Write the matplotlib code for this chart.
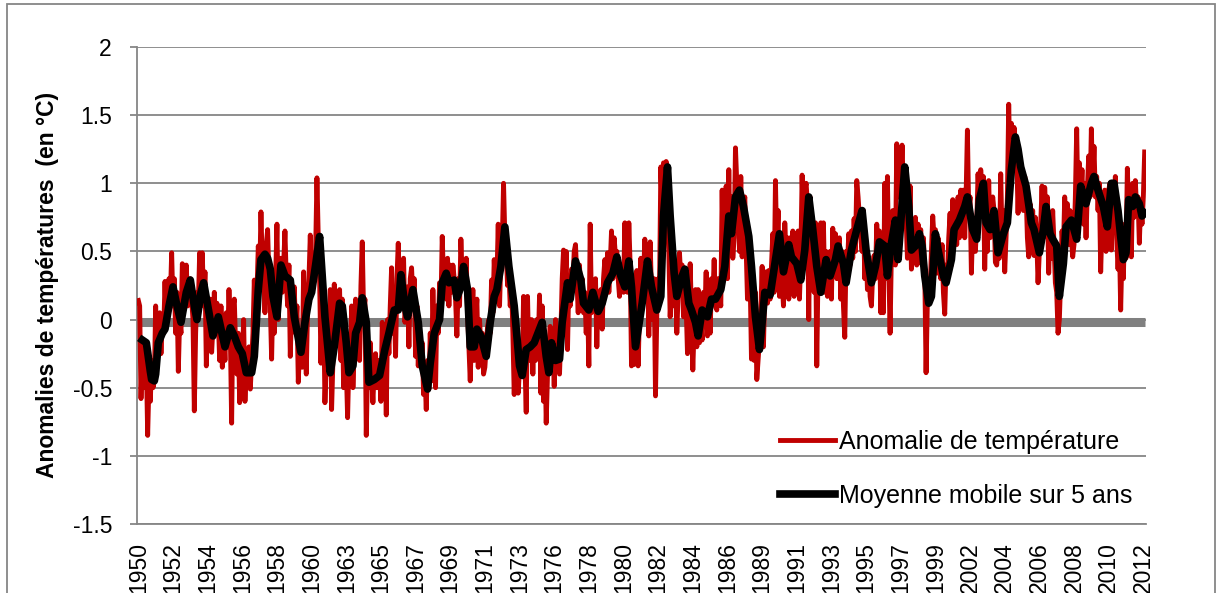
import matplotlib
matplotlib.use("Agg")
import matplotlib.pyplot as plt
import numpy as np
from matplotlib.patches import Rectangle

plt.rcParams['font.family'] = ['Liberation Sans', 'DejaVu Sans']

# monthly temperature anomalies (one row per year, Jan..Dec), 1950-2012
anomalie = [
    [0.14, 0.1, -0.58, -0.2, -0.35, -0.5, -0.3, -0.85, -0.45, -0.6, -0.3, -0.5],
    [-0.45, 0.1, -0.35, -0.15, 0.05, -0.25, 0.0, -0.1, 0.28, -0.05, 0.1, 0.3],
    [0.15, 0.49, 0.1, 0.3, -0.1, 0.2, -0.38, 0.0, -0.1, 0.41, 0.3, 0.2],
    [0.4, 0.1, 0.25, 0.3, 0.15, 0.0, -0.67, -0.1, 0.2, 0.1, 0.49, 0.3],
    [0.49, 0.1, 0.35, -0.34, 0.0, -0.2, 0.15, -0.24, -0.05, 0.2, -0.1, 0.12],
    [0.0, -0.3, 0.1, -0.35, -0.1, -0.3, 0.05, -0.2, 0.22, -0.1, -0.76, 0.1],
    [0.15, -0.2, -0.4, -0.1, -0.61, -0.15, -0.3, 0.0, -0.6, -0.3, -0.45, -0.2],
    [-0.51, -0.3, -0.1, 0.29, -0.05, 0.2, 0.54, 0.3, 0.79, 0.4, 0.5, 0.05],
    [0.55, 0.66, 0.3, 0.1, -0.29, 0.2, -0.1, 0.3, 0.7, 0.0, 0.35, 0.45],
    [0.2, 0.4, 0.65, 0.3, 0.1, 0.4, -0.27, 0.1, -0.05, 0.24, -0.1, 0.1],
    [-0.46, -0.2, -0.1, -0.35, 0.35, -0.1, -0.4, 0.1, 0.3, 0.62, 0.2, 0.35],
    [0.45, 0.5, 1.04, 0.6, 0.3, -0.32, 0.2, 0.1, -0.61, -0.3, -0.1, -0.4],
    [0.22, -0.66, -0.3, 0.26, 0.0, 0.2, 0.1, 0.22, -0.3, 0.15, -0.5, -0.1],
    [-0.35, -0.72, -0.3, -0.45, 0.1, -0.5, -0.2, 0.15, -0.17, -0.05, -0.3, 0.25],
    [0.57, 0.05, 0.15, -0.85, -0.35, -0.5, -0.17, -0.4, -0.61, -0.35, -0.25, -0.5],
    [-0.3, -0.4, -0.6, -0.02, -0.3, -0.15, -0.7, 0.0, -0.25, 0.1, 0.38, -0.1],
    [0.1, -0.27, 0.3, 0.56, 0.2, 0.35, 0.1, 0.45, -0.02, 0.1, 0.24, -0.2],
    [0.3, 0.38, 0.15, 0.3, -0.27, 0.1, -0.34, -0.1, -0.3, -0.17, -0.55, -0.4],
    [-0.66, -0.3, -0.51, -0.1, -0.45, 0.22, -0.2, -0.5, 0.1, -0.1, 0.27, 0.1],
    [0.61, 0.3, 0.4, 0.15, 0.45, 0.1, 0.4, 0.2, 0.4, 0.3, 0.15, -0.12],
    [0.3, 0.1, 0.59, 0.3, 0.4, 0.25, 0.45, 0.05, -0.2, -0.45, -0.1, 0.22],
    [-0.3, 0.0, 0.15, -0.35, 0.0, -0.2, -0.1, -0.4, -0.35, -0.2, -0.05, 0.0],
    [-0.1, 0.29, 0.05, 0.44, 0.2, 0.3, 0.7, 0.1, 0.45, 0.55, 1.0, 0.6],
    [0.5, 0.25, 0.35, 0.1, 0.27, -0.1, -0.55, -0.2, -0.3, -0.54, -0.35, -0.2],
    [-0.4, 0.17, -0.3, -0.68, 0.17, -0.3, -0.25, 0.0, -0.4, -0.05, -0.3, 0.0],
    [-0.2, 0.18, -0.54, 0.1, -0.6, -0.2, -0.76, -0.4, -0.2, -0.05, -0.3, -0.1],
    [-0.49, 0.0, -0.35, -0.2, -0.4, -0.1, 0.3, 0.51, 0.2, 0.5, -0.22, 0.3],
    [0.1, 0.37, 0.25, 0.5, 0.55, 0.3, 0.05, 0.4, 0.1, 0.3, 0.05, 0.2],
    [-0.1, 0.15, -0.34, 0.7, 0.05, 0.24, 0.1, 0.3, -0.2, 0.2, 0.05, 0.22],
    [-0.07, 0.3, 0.44, 0.2, 0.49, 0.2, 0.4, 0.65, 0.3, 0.6, 0.46, 0.5],
    [0.3, 0.17, 0.4, 0.25, 0.2, 0.71, 0.3, 0.2, 0.71, 0.4, -0.34, 0.15],
    [-0.33, -0.2, 0.36, -0.34, 0.05, 0.45, 0.1, 0.3, 0.59, 0.3, 0.55, -0.12],
    [0.57, 0.2, 0.0, 0.3, -0.56, 0.05, 0.3, 0.2, 1.12, 0.8, 1.15, 1.0],
    [1.16, 0.7, 0.5, 0.02, 0.24, 0.4, 0.1, 0.3, -0.1, 0.2, 0.49, 0.3],
    [0.4, 0.02, 0.35, 0.1, -0.25, 0.1, 0.41, 0.05, -0.37, -0.05, 0.22, -0.2],
    [0.22, -0.17, 0.0, -0.15, 0.2, 0.05, 0.35, -0.12, 0.2, -0.1, 0.3, 0.15],
    [0.44, 0.1, 0.07, 0.3, 0.2, 0.1, 0.95, 0.3, 0.5, 0.98, 0.3, 1.1],
    [0.5, 0.9, 0.45, 0.6, 1.26, 1.0, 0.9, 0.5, 1.05, 0.46, 0.8, 0.9],
    [0.52, 0.15, 0.6, 0.3, -0.29, 0.1, -0.3, 0.2, -0.44, -0.3, -0.15, 0.05],
    [0.39, -0.2, 0.22, 0.35, 0.12, 0.36, 0.15, 0.4, 0.63, 0.2, 1.02, 0.5],
    [0.8, 0.17, 0.55, 0.3, 0.1, 0.71, 0.45, 0.6, 0.15, 0.6, 0.2, 0.65],
    [0.17, 0.5, 0.2, 0.65, 0.15, 0.45, 1.06, 0.6, 0.95, 1.0, 0.85, 0.0],
    [0.9, 0.5, 0.7, 0.2, 0.71, -0.34, 0.4, 0.2, 0.71, 0.4, 0.71, 0.2],
    [0.5, 0.17, 0.32, 0.5, 0.15, 0.67, 0.4, 0.63, 0.3, 0.55, 0.6, 0.15],
    [0.5, 0.1, -0.13, 0.5, 0.4, 0.63, 0.4, 0.65, 0.45, 0.74, 0.5, 1.02],
    [0.9, 0.75, 0.6, 0.5, 0.8, 0.3, 0.55, 0.22, 0.4, 0.17, 0.1, 0.35],
    [0.47, 0.3, 0.7, 0.45, 0.65, 0.05, 0.62, 0.05, 1.0, 0.3, 1.05, 0.4],
    [-0.1, 0.5, 0.8, 0.55, 0.4, 1.29, 0.9, 1.2, 1.0, 1.28, 0.95, 1.1],
    [0.75, 0.45, 0.5, 0.98, 0.37, 0.5, 0.45, 0.75, 0.4, 0.7, 0.5, 0.66],
    [0.4, 0.6, 0.35, -0.39, 0.15, 0.3, 0.2, 0.5, 0.76, 0.6, 0.66, 0.34],
    [0.6, 0.5, 0.3, 0.55, 0.2, 0.04, 0.4, 0.3, 0.6, 0.78, 0.4, 0.88],
    [0.6, 0.8, 0.55, 0.9, 0.6, 0.95, 0.7, 0.95, 0.6, 0.9, 1.39, 0.8],
    [0.9, 0.34, 0.7, 0.55, 0.5, 0.7, 1.07, 0.8, 1.1, 0.95, 1.05, 0.37],
    [0.8, 0.5, 1.02, 0.6, 0.75, 0.9, 0.8, 0.42, 0.4, 0.55, 0.45, 1.07],
    [0.6, 0.8, 0.35, 0.6, 0.9, 1.58, 1.1, 1.44, 1.2, 1.41, 1.3, 1.2],
    [0.78, 1.17, 0.9, 1.1, 0.8, 1.05, 0.95, 0.6, 0.46, 0.85, 0.65, 0.8],
    [0.47, 0.75, 0.6, 0.27, 0.5, 0.7, 0.98, 0.6, 0.97, 0.75, 0.9, 0.34],
    [0.7, 0.45, 0.8, 0.55, 0.27, 0.2, -0.1, 0.0, 0.3, 0.65, 0.5, 0.9],
    [0.7, 0.85, 0.55, 0.8, 0.6, 0.46, 0.55, 0.9, 1.4, 0.8, 1.15, 0.9],
    [1.1, 0.7, 1.0, 0.6, 0.95, 1.2, 0.9, 1.4, 1.0, 1.27, 0.9, 1.05],
    [0.8, 1.0, 0.35, 0.7, 0.55, 0.95, 0.5, 0.6, 0.95, 1.0, 0.51, 0.9],
    [0.7, 1.05, 0.6, 0.37, 0.6, 0.07, 0.5, 0.3, 0.7, 0.45, 1.11, 0.8],
    [0.9, 0.46, 1.0, 0.75, 1.02, 0.8, 0.9, 0.56, 0.85, 0.7, 0.9, 1.23],
]

# moving average (month index, value)
ma_month = [3, 6, 9, 10, 12, 13, 15, 18, 20, 23, 26, 29, 32, 36, 39, 42, 44, 47, 49, 53, 56, 60, 65, 69, 72,
            75, 78, 81, 85, 87, 90, 92, 95, 97, 99, 101, 104, 107, 110, 114, 117, 122, 125, 128, 130, 133, 136, 140, 144,
            147, 151, 153, 156, 158, 161, 163, 166, 168, 171, 173, 177, 181, 185, 188, 192, 195, 197, 200, 202, 206, 210, 213, 217,
            219, 222, 226, 228, 231, 233, 237, 239, 242, 244, 247, 249, 252, 254, 257, 261, 264, 267, 269, 272, 275, 278, 282, 286, 288, 291,
            294, 297, 301, 303, 306, 308, 310, 313, 316, 318, 322, 324, 328, 332, 334, 338, 341, 345, 348, 352, 356, 359, 362, 365,
            368, 370, 373, 375, 378, 382, 385, 389, 392, 394, 397, 399, 402, 404, 408, 410, 413, 415, 418, 420, 423, 427, 430, 433, 437,
            440, 443, 445, 448, 451, 454, 458, 460, 463, 466, 468, 470, 474, 478, 481, 484, 488, 490, 494, 497, 500, 503, 506, 509, 512,
            514, 516, 519, 523, 525, 529, 531, 535, 539, 543, 546, 550, 553, 556, 560, 562, 565, 568, 570, 575, 578, 580, 583, 586,
            588, 590, 593, 595, 598, 600, 604, 606, 610, 612, 616, 620, 622, 626, 629, 631, 634, 636, 639, 642, 645, 649, 652, 655, 658, 660,
            662, 666, 670, 672, 676, 679, 681, 684, 686, 689, 691, 694, 696, 700, 704, 707, 711, 715, 717, 720, 724, 727, 730, 732,
            735, 737, 739, 741, 743, 746, 748, 751, 753, 755]
ma_value = [-0.15, -0.17, -0.38, -0.44, -0.45, -0.4, -0.17, -0.1, -0.07, 0.1, 0.24, 0.1, -0.02, 0.2, 0.29, 0.1, 0.0, 0.2, 0.27, 0.05, -0.12, 0.02, -0.2, -0.06, -0.12,
            -0.2, -0.25, -0.39, -0.39, -0.27, 0.22, 0.44, 0.48, 0.45, 0.37, 0.17, 0.02, 0.4, 0.32, 0.29, 0.02, -0.24, -0.02, 0.15, 0.2, 0.4, 0.61, 0.02, -0.39,
            -0.2, 0.12, 0.1, -0.17, -0.39, -0.34, -0.1, -0.02, 0.16, -0.02, -0.46, -0.44, -0.41, -0.22, -0.1, 0.07, 0.07, 0.33, 0.1, 0.02, 0.22, -0.02, -0.34, -0.51,
            -0.32, -0.1, 0.0, 0.27, 0.34, 0.27, 0.29, 0.16, 0.24, 0.39, 0.22, -0.2, -0.2, -0.07, -0.12, -0.27, -0.02, 0.17, 0.22, 0.39, 0.68, 0.39, 0.1, -0.34, -0.41, -0.22,
            -0.2, -0.17, -0.07, -0.02, -0.27, -0.39, -0.17, -0.3, -0.29, -0.02, 0.27, 0.15, 0.43, 0.29, 0.12, 0.07, 0.2, 0.06, 0.12, 0.27, 0.34, 0.46, 0.32, 0.24,
            0.43, 0.24, -0.2, -0.07, 0.12, 0.43, 0.24, 0.07, 0.17, 0.76, 1.12, 0.76, 0.34, 0.17, 0.32, 0.37, 0.12, 0.07, -0.02, -0.12, 0.07, 0.02, 0.15, 0.15, 0.22,
            0.39, 0.76, 0.63, 0.9, 0.95, 0.83, 0.61, 0.39, 0.02, -0.22, -0.02, 0.2, 0.18, 0.44, 0.63, 0.35, 0.55, 0.46, 0.41, 0.29, 0.51, 0.9, 0.66, 0.39, 0.2,
            0.32, 0.44, 0.32, 0.44, 0.54, 0.41, 0.27, 0.51, 0.66, 0.8, 0.51, 0.27, 0.39, 0.57, 0.54, 0.32, 0.56, 0.73, 0.44, 1.12, 0.83, 0.51, 0.54, 0.63,
            0.54, 0.32, 0.12, 0.17, 0.63, 0.51, 0.32, 0.27, 0.44, 0.66, 0.73, 0.83, 0.9, 0.66, 0.59, 0.88, 1.0, 0.71, 0.66, 0.8, 0.49, 0.63, 0.71, 1.1, 1.34, 1.25,
            1.12, 0.98, 0.71, 0.66, 0.49, 0.66, 0.83, 0.63, 0.59, 0.54, 0.17, 0.41, 0.68, 0.73, 0.59, 0.98, 0.85, 1.0, 1.05, 0.95, 0.83, 0.68, 1.0, 1.0,
            0.8, 0.61, 0.44, 0.49, 0.88, 0.83, 0.9, 0.85, 0.76, 0.78]

baseline = -0.02
start_year = 1950
label_step = 26
y_ticks = [-1.5, -1, -0.5, 0, 0.5, 1, 1.5, 2]
y_labels = ['-1.5', '-1', '-0.5', '0', '0.5', '1', '1.5', '2']

temp = np.array(anomalie).ravel()
months = np.arange(len(temp))

W, H = 1218, 593
fig = plt.figure(figsize=(W / 100, H / 100), dpi=100)
ax = fig.add_axes([137 / W, (H - 524) / H, (1146 - 137) / W, (524 - 47) / H])

grey = '#868686'
ax.plot([months[0], months[-1]], [baseline, baseline], color='#808080', lw=6.5,
        solid_capstyle='butt', zorder=2)
ax.plot(months, temp, color='#C00000', lw=3.5, solid_joinstyle='round',
        label='Anomalie de température', zorder=3)
ax.plot(ma_month, ma_value, color='black', lw=5.5, solid_joinstyle='round',
        label='Moyenne mobile sur 5 ans', zorder=4)

ax.set_xlim(-1, len(temp))
ax.set_ylim(-1.5, 2)
ax.set_yticks(y_ticks)
ax.set_yticklabels(y_labels)
pos = months[::label_step]
ax.set_xticks(pos)
ax.set_xticklabels([str(start_year + m // 12) for m in pos], rotation=90, va='top', ha='center')

ax.grid(axis='y', color=grey, lw=1.3, zorder=0)
ax.set_axisbelow(True)
for s in ['top', 'right']:
    ax.spines[s].set_visible(False)
for s in ['left', 'bottom']:
    ax.spines[s].set_color(grey)
    ax.spines[s].set_linewidth(1.3)
ax.tick_params(axis='y', length=5, width=1.3, color=grey, pad=13, labelsize=16.5)
ax.tick_params(axis='x', length=0, pad=13, labelsize=16.5)

fig.text(48 / W, 1 - 285 / H, 'Anomalies de températures  (en °C)', rotation=90,
         ha='center', va='center', fontsize=16.5, fontweight='bold')

ax.legend(loc='center left', bbox_to_anchor=(780 / W, 1 - 469 / H),
          bbox_transform=fig.transFigure, frameon=False, fontsize=18,
          borderpad=0, borderaxespad=0, handlelength=2.2, handletextpad=0.15,
          labelspacing=1.2)

fig.add_artist(Rectangle((7 / W, -0.05), (1215 - 7) / W, 1.05 - 4 / H,
                         transform=fig.transFigure, fill=False, edgecolor=grey, lw=1.3))

fig.savefig('out.png', dpi=100)
